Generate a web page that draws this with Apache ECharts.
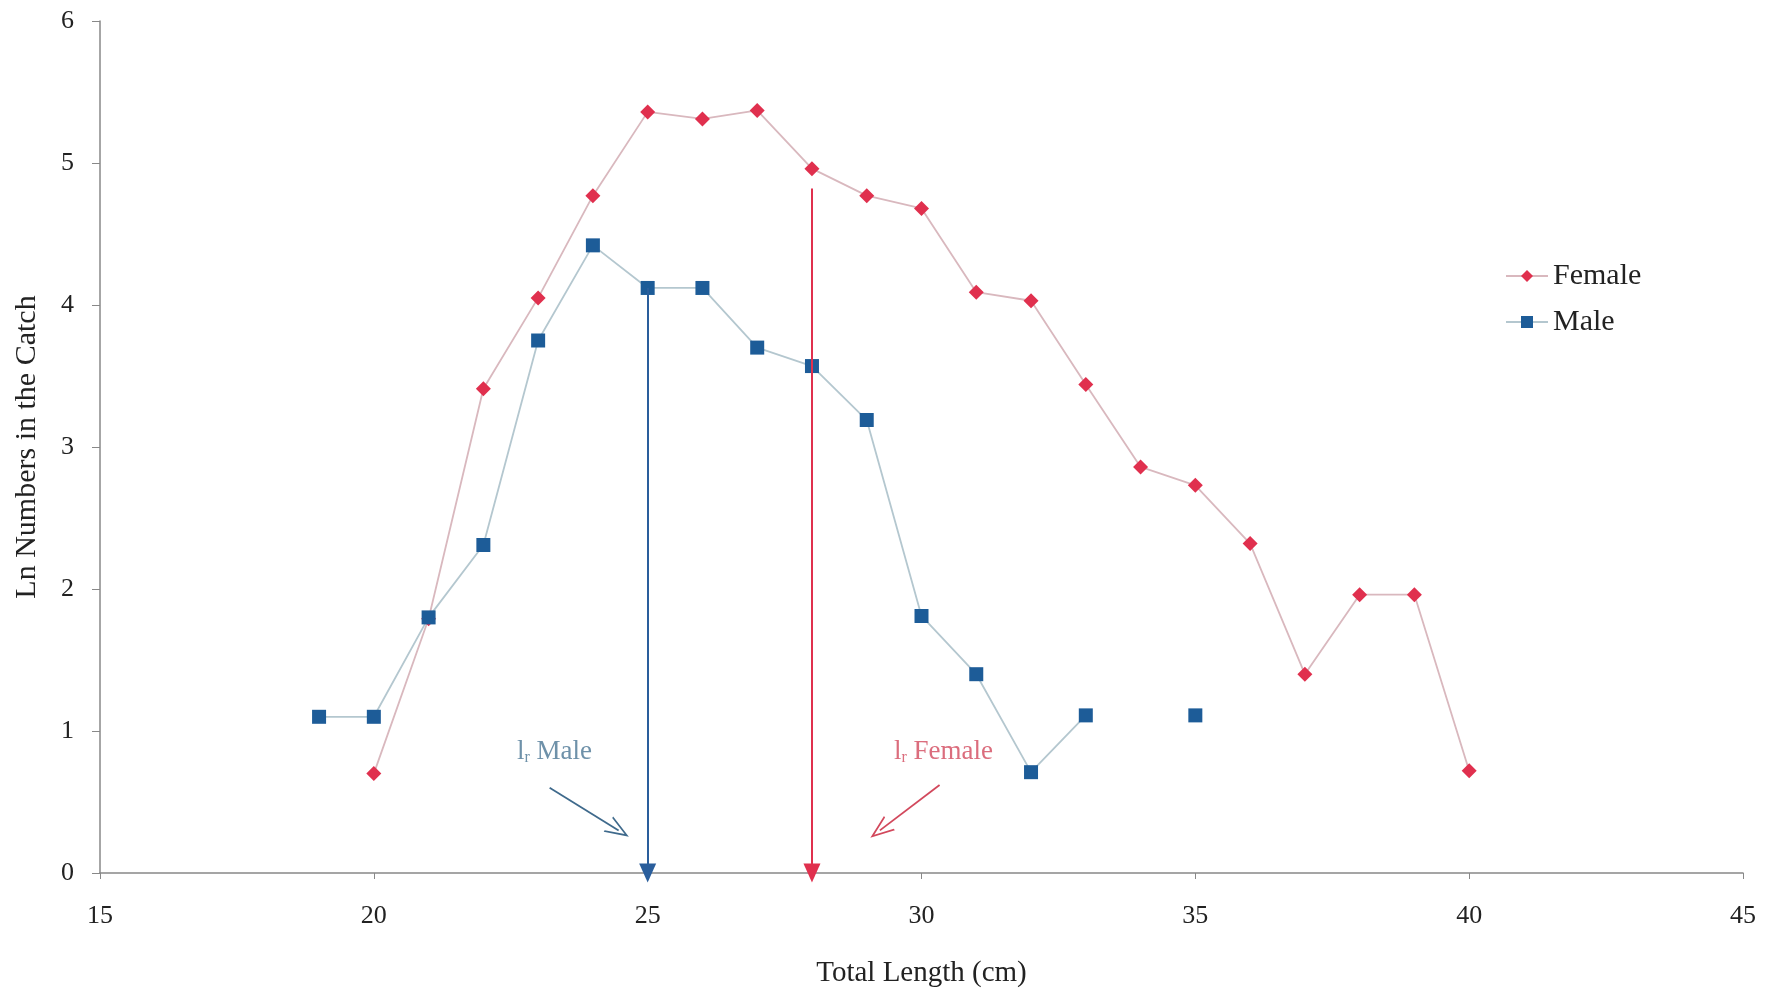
<!DOCTYPE html>
<html><head><meta charset="utf-8">
<script src="https://cdn.jsdelivr.net/npm/echarts@6/dist/echarts.min.js"></script>
<style>html,body{margin:0;padding:0;background:#fff}#c{width:1771px;height:994px}</style>
</head><body><div id="c"></div>
<script>
// Data
const lengths = [19,20,21,22,23,24,25,26,27,28,29,30,31,32,33,34,35,36,37,38,39,40];
const female  = [null,0.70,1.79,3.41,4.05,4.77,5.36,5.31,5.37,4.96,4.77,4.68,4.09,4.03,3.44,2.86,2.73,2.32,1.40,1.96,1.96,0.72];
const male    = [1.10,1.10,1.80,2.31,3.75,4.42,4.12,4.12,3.70,3.57,3.19,1.81,1.40,0.71,1.11,null,1.11,null,null,null,null,null];
const xTicks = [15,20,25,30,35,40,45];
const yTicks = [0,1,2,3,4,5,6];
// Lr markers: [x, yTop]
const lrMale = [25, 4.12];
const lrFemale = [28, 4.82];
// annotation pointer arrows: [[x1,y1],[x2,y2]]
const maleArrow = [[23.21,0.60],[24.47,0.30]];
const femaleArrow = [[30.33,0.62],[29.24,0.30]];
const maleLabelPos = [23.3, 0.85];
const femaleLabelPos = [30.4, 0.85];

const FONT = 'Liberation Serif';
const femaleCol = '#e0304e', femaleLine = '#d9b8be';
const maleCol = '#1d5c98', maleLine = '#b4c7cf';
const openArrow = 'path://M0,0 L7,12 L5.6,12 L0,2.5 L-5.6,12 L-7,12 Z';

const chart = echarts.init(document.getElementById('c'));
const pairs = arr => lengths.map((x,i)=>[x, arr[i]]);
const lrLabel = (pos, txt, col) => ({
  type:'scatter', data:[pos], symbolSize:0, silent:true, z:5,
  label:{show:true, position:'inside', formatter:'{a|l}{b|r}{a| ' + txt + '}',
    rich:{a:{fontFamily:FONT,fontSize:27,color:col},
          b:{fontFamily:FONT,fontSize:16,color:col,padding:[10,0,0,0]}}}
});
chart.setOption({
  animation:false,
  backgroundColor:'#fff',
  grid:{left:100,right:28,top:21,bottom:121},
  xAxis:{type:'value',min:xTicks[0],max:xTicks[xTicks.length-1],interval:5,
    name:'Total Length (cm)',nameLocation:'middle',nameGap:86,
    nameTextStyle:{fontFamily:FONT,fontSize:29,color:'#222'},
    axisLine:{lineStyle:{color:'#888',width:1.5}},
    axisTick:{show:true,length:6,lineStyle:{color:'#888'}},
    axisLabel:{fontFamily:FONT,fontSize:26,color:'#222',margin:30},
    splitLine:{show:false}},
  yAxis:{type:'value',min:yTicks[0],max:yTicks[yTicks.length-1],interval:1,
    name:'Ln Numbers in the Catch',nameLocation:'middle',nameGap:58,
    nameTextStyle:{fontFamily:FONT,fontSize:30,color:'#222'},
    axisLine:{show:true,lineStyle:{color:'#888',width:1.5}},
    axisTick:{show:true,length:8,lineStyle:{color:'#888'}},
    axisLabel:{fontFamily:FONT,fontSize:26,color:'#222',margin:26},
    splitLine:{show:false}},
  legend:{orient:'vertical',left:1500,top:256,itemGap:16,itemWidth:42,itemHeight:15,
    textStyle:{fontFamily:FONT,fontSize:30,color:'#222'},
    data:['Female','Male']},
  series:[
    {name:'Female',type:'line',data:pairs(female),connectNulls:false,
     symbol:'diamond',symbolSize:15,itemStyle:{color:femaleCol},
     lineStyle:{color:femaleLine,width:1.8},z:3,
     markLine:{silent:true,symbol:['none','triangle'],symbolSize:[17,19],
       lineStyle:{color:femaleCol,width:2,type:'solid'},label:{show:false},
       data:[[{coord:lrFemale},{coord:[lrFemale[0],0]}],
             [{coord:femaleArrow[0],symbol:'none'},{coord:femaleArrow[1],symbol:openArrow,symbolSize:[18,24],lineStyle:{width:1.8,color:'#d2485c'}}]]}},
    {name:'Male',type:'line',data:pairs(male),connectNulls:false,
     symbol:'rect',symbolSize:14,itemStyle:{color:maleCol},
     lineStyle:{color:maleLine,width:1.8},z:4,
     markLine:{silent:true,symbol:['none','triangle'],symbolSize:[17,19],
       lineStyle:{color:'#2a5e9c',width:2,type:'solid'},label:{show:false},
       data:[[{coord:lrMale},{coord:[lrMale[0],0]}],
             [{coord:maleArrow[0],symbol:'none'},{coord:maleArrow[1],symbol:openArrow,symbolSize:[18,24],lineStyle:{width:1.8,color:'#3f6a8c'}}]]}},
    lrLabel(maleLabelPos,'Male','#4a7694'),
    lrLabel(femaleLabelPos,'Female','#d2485c')
  ]
});
</script></body></html>
